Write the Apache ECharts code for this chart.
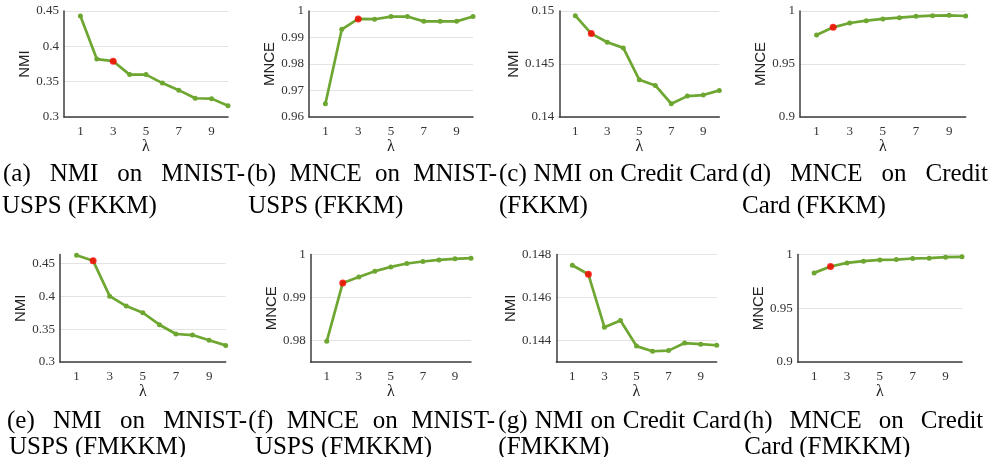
<!DOCTYPE html>
<html><head><meta charset="utf-8">
<script src="https://cdn.jsdelivr.net/npm/echarts@6/dist/echarts.min.js"></script>
<style>html,body{margin:0;padding:0;background:#fff}#c{width:990px;height:457px}</style>
</head><body><div id="c"></div>
<script>
// ---------------- data ----------------
const lambdas = [1, 2, 3, 4, 5, 6, 7, 8, 9, 10];
const nmiMnistFKKM   = [0.443, 0.382, 0.379, 0.360, 0.360, 0.348, 0.338, 0.3265, 0.326, 0.316];
const mnceMnistFKKM  = [0.965, 0.9931, 0.9970, 0.9969, 0.9979, 0.9979, 0.9961, 0.9961, 0.9961, 0.9979];
const nmiCreditFKKM  = [0.14956, 0.14787, 0.14705, 0.14652, 0.14351, 0.14298, 0.14125, 0.14197, 0.14207, 0.14251];
const mnceCreditFKKM = [0.9774, 0.9846, 0.9887, 0.9909, 0.9925, 0.9937, 0.9950, 0.9956, 0.9959, 0.9953];
const nmiMnistFMKKM  = [0.4627, 0.4541, 0.4003, 0.3851, 0.3750, 0.3568, 0.3426, 0.3410, 0.3330, 0.3253];
const mnceMnistFMKKM = [0.9798, 0.99339, 0.99479, 0.99611, 0.99712, 0.9979, 0.99837, 0.99875, 0.99899, 0.99914];
const nmiCreditFMKKM = [0.1475, 0.14708, 0.14462, 0.14493, 0.14374, 0.1435, 0.14353, 0.14388, 0.14383, 0.14378];
const mnceCreditFMKKM= [0.9829, 0.9888, 0.9922, 0.9938, 0.9950, 0.9953, 0.9963, 0.9966, 0.9975, 0.9978];
const bestLambda = [3, 3, 2, 2, 2, 2, 2, 2];
const xTickLabels = [1, 3, 5, 7, 9];
const yTicks = [
  [0.3, 0.35, 0.4, 0.45], [0.96, 0.97, 0.98, 0.99, 1], [0.14, 0.145, 0.15], [0.9, 0.95, 1],
  [0.3, 0.35, 0.4, 0.45], [0.98, 0.99, 1], [0.144, 0.146, 0.148], [0.9, 0.95, 1]
];
const yRanges = [
  [0.3, 0.45], [0.96, 1], [0.14, 0.15], [0.9, 1],
  [0.3, 0.4637], [0.975, 1], [0.143, 0.148], [0.9, 1]
];
const yNames = ['NMI', 'MNCE', 'NMI', 'MNCE', 'NMI', 'MNCE', 'NMI', 'MNCE'];
const xName = 'λ';
const captions = [
  ['(a) NMI on MNIST-', 'USPS (FKKM)'],
  ['(b) MNCE on MNIST-', 'USPS (FKKM)'],
  ['(c) NMI on Credit Card', '(FKKM)'],
  ['(d) MNCE on Credit', 'Card (FKKM)'],
  ['(e) NMI on MNIST-', 'USPS (FMKKM)'],
  ['(f) MNCE on MNIST-', 'USPS (FMKKM)'],
  ['(g) NMI on Credit Card', '(FMKKM)'],
  ['(h) MNCE on Credit', 'Card (FMKKM)']
];
const seriesValues = [nmiMnistFKKM, mnceMnistFKKM, nmiCreditFKKM, mnceCreditFKKM,
                      nmiMnistFMKKM, mnceMnistFMKKM, nmiCreditFMKKM, mnceCreditFMKKM];

// ---------------- layout ----------------
const gridBoxes = [ // left, right, top, bottom
  [64, 228, 11, 117], [309, 473, 11, 117], [559.3, 719.3, 11, 117], [800, 965.7, 11, 117],
  [60, 225.7, 254.5, 362], [310.7, 471, 254.5, 362], [556.3, 716.7, 254.5, 362], [797.7, 962, 254.5, 362]
];
const nameDist = [36, 36, 40, 36, 36, 35, 40.6, 37];
const capLayout = [ // line1 left, line1 right, line2 left, line1 centerY, line2 centerY
  [3, 245, 2, 174, 206], [247, 497, 248.3, 174, 206], [499, 738, 499, 174, 206], [742, 988, 742, 174, 206],
  [7, 247, 9, 421, 447.5], [248.3, 495, 255, 421, 447.5], [498.3, 741, 498.3, 421, 447.5], [743.3, 983.3, 744.3, 421, 447.5]
];

const GREEN = '#6ea632';
const AXIS = '#3c3c3c';
const fmt = v => String(+(+v).toFixed(4));

const grid = [], xAxis = [], yAxis = [], series = [];
gridBoxes.forEach((b, i) => {
  grid.push({ left: b[0], top: b[2], width: b[1] - b[0], height: b[3] - b[2], containLabel: false });
  xAxis.push({
    type: 'value', gridIndex: i, min: 0, max: 10, interval: 1,
    name: xName, nameLocation: 'middle', nameGap: 20,
    nameTextStyle: { fontFamily: 'Liberation Serif', fontSize: 16, color: '#222' },
    axisLine: { show: true, lineStyle: { color: AXIS, width: 1.5 } },
    axisTick: { show: false },
    splitLine: { show: false },
    axisLabel: {
      fontFamily: 'Liberation Serif', fontSize: 13, color: '#333', margin: 8,
      formatter: v => (xTickLabels.indexOf(v) >= 0 ? String(v) : '')
    }
  });
  yAxis.push({
    type: 'value', gridIndex: i, min: yRanges[i][0], max: yRanges[i][1],
    name: yNames[i], nameLocation: 'middle', nameGap: nameDist[i] - 11,
    nameTextStyle: { fontFamily: 'Liberation Sans', fontSize: 15, color: '#222' },
    axisLine: { show: true, lineStyle: { color: AXIS, width: 1.5 } },
    axisTick: { show: false, customValues: yTicks[i] },
    splitLine: { show: true, lineStyle: { color: '#e3e3e3', width: 1 } },
    axisLabel: {
      customValues: yTicks[i], showMinLabel: true, showMaxLabel: true,
      fontFamily: 'Liberation Serif', fontSize: 13, color: '#333', margin: 5,
      formatter: fmt
    }
  });
  const vals = seriesValues[i];
  series.push({
    type: 'line', xAxisIndex: i, yAxisIndex: i,
    data: lambdas.map((l, k) => [l, vals[k]]),
    symbol: 'circle', symbolSize: 5, showSymbol: true,
    lineStyle: { color: GREEN, width: 2.7 },
    itemStyle: { color: GREEN },
    z: 3, silent: true
  });
  const bi = lambdas.indexOf(bestLambda[i]);
  series.push({
    type: 'scatter', xAxisIndex: i, yAxisIndex: i,
    data: [[lambdas[bi], vals[bi]]],
    symbol: 'circle', symbolSize: 7,
    itemStyle: { color: '#ff0000' }, z: 5, silent: true
  });
});

// captions (justified first line, like the LaTeX subcaptions)
const capFontSize = 25, capFamily = 'Liberation Serif';
const ctx = document.createElement('canvas').getContext('2d');
ctx.font = capFontSize + 'px "' + capFamily + '"';
const graphics = [];
function placeLine(text, left, right, cy, justify) {
  const words = text.split(' ');
  const widths = words.map(w => ctx.measureText(w).width);
  const total = widths.reduce((a, c) => a + c, 0);
  const space = ctx.measureText(' ').width;
  const gap = (justify && words.length > 1) ? (right - left - total) / (words.length - 1) : space;
  let x = left;
  words.forEach((w, k) => {
    graphics.push({
      type: 'text', x: x, y: cy, silent: true,
      style: { text: w, fontSize: capFontSize, fontFamily: capFamily, fill: '#000', align: 'left', verticalAlign: 'middle' }
    });
    x += widths[k] + gap;
  });
}
captions.forEach((c, i) => {
  const L = capLayout[i];
  placeLine(c[0], L[0], L[1], L[3], true);
  placeLine(c[1], L[2], L[2] + 500, L[4], false);
});

const chart = echarts.init(document.getElementById('c'), null, { renderer: 'canvas' });
chart.setOption({
  animation: false,
  backgroundColor: '#fff',
  grid, xAxis, yAxis, series,
  graphic: graphics
});
</script>
</body></html>
